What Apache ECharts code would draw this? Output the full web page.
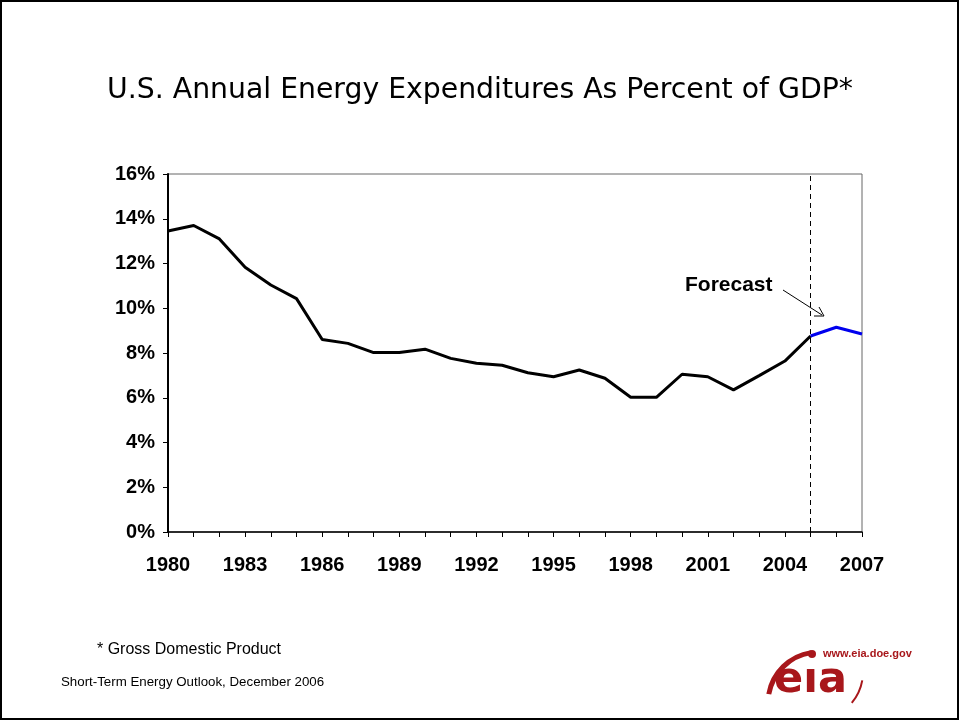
<!DOCTYPE html>
<html>
<head>
<meta charset="utf-8">
<script src="https://cdn.jsdelivr.net/npm/echarts@6/dist/echarts.min.js"></script>
<style>html,body{margin:0;padding:0;background:#fff;}#c{width:960px;height:721px;}</style>
</head>
<body>
<div id="c"></div>
<script>
var years = ['1980','1981','1982','1983','1984','1985','1986','1987','1988','1989','1990','1991','1992','1993','1994','1995','1996','1997','1998','1999','2000','2001','2002','2003','2004','2005','2006','2007'];
var historical = [13.45,13.7,13.1,11.83,11.04,10.43,8.6,8.43,8.02,8.02,8.17,7.76,7.54,7.45,7.12,6.94,7.24,6.87,6.02,6.02,7.05,6.94,6.35,6.99,7.64,8.76,null,null];
var forecast = [null,null,null,null,null,null,null,null,null,null,null,null,null,null,null,null,null,null,null,null,null,null,null,null,null,8.76,9.15,8.85];
var yTicks = [0,2,4,6,8,10,12,14,16];
var forecastStart = '2005';

var chart = echarts.init(document.getElementById('c'));
var red = '#a8171b';
var D = Math.PI / 180;
chart.setOption({
  backgroundColor: '#fff',
  animation: false,
  title: {
    text: 'U.S. Annual Energy Expenditures As Percent of GDP*',
    left: 'center',
    top: 72,
    textStyle: { fontFamily: 'DejaVu Sans', fontWeight: 'normal', fontSize: 28.3, color: '#000' }
  },
  grid: { left: 168, top: 174, width: 694, height: 358, show: true, borderColor: '#666', borderWidth: 1, backgroundColor: 'transparent' },
  xAxis: {
    type: 'category',
    data: years,
    boundaryGap: false,
    axisLine: { lineStyle: { color: '#000', width: 1.5 } },
    axisTick: { show: true, interval: 0, length: 5, lineStyle: { color: '#000' } },
    axisLabel: { interval: 2, margin: 23, fontFamily: 'Liberation Sans', fontWeight: 'bold', fontSize: 20, color: '#000' },
    splitLine: { show: false }
  },
  yAxis: {
    type: 'value',
    min: yTicks[0],
    max: yTicks[yTicks.length - 1],
    interval: 2,
    axisLine: { show: true, lineStyle: { color: '#000', width: 2 } },
    axisTick: { show: true, length: 5, lineStyle: { color: '#000' } },
    axisLabel: { margin: 13, formatter: '{value}%', fontFamily: 'Liberation Sans', fontWeight: 'bold', fontSize: 20, color: '#000' },
    splitLine: { show: false }
  },
  series: [
    {
      type: 'line', data: historical, symbol: 'none', connectNulls: false,
      lineStyle: { color: '#000', width: 3 },
      markLine: {
        silent: true, symbol: 'none', label: { show: false },
        lineStyle: { color: '#000', type: [5, 4], width: 1 },
        data: [{ xAxis: forecastStart }]
      },
      z: 3
    },
    {
      type: 'line', data: forecast, symbol: 'none',
      lineStyle: { color: '#0000ee', width: 3 },
      z: 4
    }
  ],
  graphic: [
    { type: 'rect', shape: { x: 1, y: 1, width: 957, height: 718 }, style: { fill: 'none', stroke: '#000', lineWidth: 2 }, silent: true },
    { type: 'text', left: 685, top: 275, style: { text: 'Forecast', font: 'bold 21px "Liberation Sans"', fill: '#000' } },
    { type: 'line', shape: { x1: 783, y1: 290, x2: 822, y2: 315 }, style: { stroke: '#000', lineWidth: 1 } },
    { type: 'polyline', shape: { points: [[814, 316], [824, 316], [819, 307]] }, style: { stroke: '#000', lineWidth: 1, fill: 'none' } },
    { type: 'text', left: 97, top: 642, style: { text: '* Gross Domestic Product', font: '16px "Liberation Sans"', fill: '#000' } },
    { type: 'text', left: 61, top: 676, style: { text: 'Short-Term Energy Outlook, December 2006', font: '13.3px "Liberation Sans"', fill: '#000' } },
    { type: 'text', left: 823, top: 648, style: { text: 'www.eia.doe.gov', font: 'bold 11px "Liberation Sans"', fill: red } },
    { type: 'circle', shape: { cx: 812, cy: 654, r: 4 }, style: { fill: red } },
    { type: 'arc', shape: { cx: 819, cy: 703, r: 51, startAngle: 190 * D, endAngle: 261 * D, clockwise: true }, style: { stroke: red, lineWidth: 5, fill: 'none' } },
    { type: 'text', left: 774, top: 659, style: { text: 'e\u0131a', font: 'bold 43px "DejaVu Sans"', fill: red } },
    { type: 'arc', shape: { cx: 815, cy: 672, r: 48, startAngle: 10 * D, endAngle: 40 * D, clockwise: true }, style: { stroke: red, lineWidth: 2, fill: 'none' } }
  ]
});
</script>
</body>
</html>
